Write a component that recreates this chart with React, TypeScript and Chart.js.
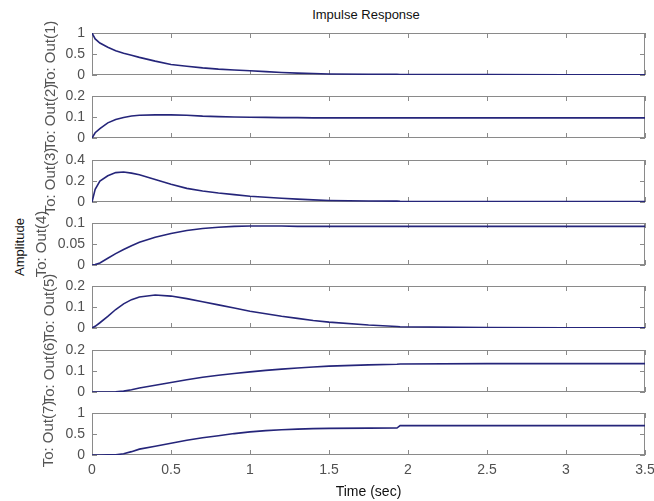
import React, { useEffect, useRef } from "react";
import { Chart, registerables } from "chart.js";

Chart.register(...registerables);

// ---- data ----
const times = [0, 0.02, 0.05, 0.1, 0.15, 0.2, 0.25, 0.3, 0.4, 0.5, 0.6, 0.7, 0.8, 0.9, 1.0, 1.1, 1.2, 1.3, 1.4, 1.5, 1.75, 1.93, 1.95, 2.5, 3.0, 3.5];

const out1 = [1.0, 0.86, 0.76, 0.66, 0.58, 0.52, 0.47, 0.42, 0.33, 0.25, 0.21, 0.17, 0.14, 0.12, 0.1, 0.08, 0.06, 0.045, 0.035, 0.025, 0.018, 0.014, 0.012, 0.008, 0.006, 0.005];
const out2 = [0, 0.025, 0.045, 0.072, 0.088, 0.098, 0.105, 0.108, 0.11, 0.11, 0.108, 0.104, 0.102, 0.1, 0.099, 0.098, 0.097, 0.097, 0.096, 0.096, 0.096, 0.096, 0.096, 0.096, 0.096, 0.096];
const out3 = [0, 0.12, 0.2, 0.25, 0.28, 0.285, 0.275, 0.26, 0.215, 0.17, 0.13, 0.105, 0.085, 0.07, 0.055, 0.045, 0.035, 0.027, 0.02, 0.015, 0.01, 0.008, 0.007, 0.005, 0.005, 0.005];
const out4 = [0, 0.001, 0.005, 0.016, 0.027, 0.037, 0.046, 0.054, 0.066, 0.075, 0.082, 0.087, 0.09, 0.092, 0.093, 0.093, 0.093, 0.092, 0.092, 0.092, 0.092, 0.092, 0.092, 0.092, 0.092, 0.092];
const out5 = [0, 0.008, 0.025, 0.055, 0.088, 0.115, 0.135, 0.148, 0.157, 0.152, 0.14, 0.125, 0.11, 0.095, 0.08, 0.068, 0.056, 0.046, 0.036, 0.028, 0.014, 0.007, 0.006, 0.002, 0.001, 0.001];
const out6 = [0, 0, 0, 0, 0.001, 0.004, 0.011, 0.019, 0.032, 0.045, 0.058, 0.07, 0.08, 0.088, 0.096, 0.103, 0.109, 0.114, 0.119, 0.123, 0.129, 0.132, 0.133, 0.135, 0.135, 0.135];
const out7 = [0, 0, 0, 0.002, 0.005, 0.03, 0.08, 0.14, 0.21, 0.28, 0.35, 0.41, 0.46, 0.51, 0.55, 0.58, 0.6, 0.615, 0.628, 0.635, 0.64, 0.642, 0.7, 0.7, 0.7, 0.7];

const seriesList = [out1, out2, out3, out4, out5, out6, out7];
const outputLabels = ["To: Out(1)", "To: Out(2)", "To: Out(3)", "To: Out(4)", "To: Out(5)", "To: Out(6)", "To: Out(7)"];
const yMaxes = [1, 0.2, 0.4, 0.1, 0.2, 0.2, 1];
const ySteps = [0.5, 0.1, 0.2, 0.05, 0.1, 0.1, 0.5];
const xMin = 0;
const xMax = 3.5;
const xStep = 0.5;

const titleText = "Impulse Response";
const xTitleText = "Time (sec)";
const yTitleText = "Amplitude";

// ---- layout / style ----
const W = 654;
const H = 501;
const PLOT_LEFT = 92;
const PLOT_RIGHT = 645;
const PLOT_TOPS = [33, 96, 160, 223, 286, 350, 413];
const PLOT_BOTTOMS = [75, 138, 202, 265, 328, 392, 455];
const LABEL_CX = [51, 51, 51, 42, 50, 50, 49];
const LABEL_SIZE = 15;
const FONT = "'Liberation Sans', Arial, Helvetica, sans-serif";
const LINE_COLOR = "#25257a";
const BOX_COLOR = "#8a8a8a";
const TICK_TEXT = "#505050";
const TICK_LEN = 5;

function tickValues(min: number, max: number, step: number): number[] {
  const out: number[] = [];
  const n = Math.round((max - min) / step);
  for (let i = 0; i <= n; i++) out.push(+(min + i * step).toFixed(6));
  return out;
}

const fmt = (v: any) => String(+Number(v).toFixed(4));

const matlabBox = {
  id: "matlabBox",
  beforeDatasetsDraw(chart: any) {
    const { ctx, chartArea: a, scales } = chart;
    const xs = scales.x;
    const ys = scales.y;
    const yMax = ys.options.max;
    const yStep = ys.options.ticks.stepSize;
    ctx.save();
    ctx.strokeStyle = BOX_COLOR;
    ctx.lineWidth = 1;
    ctx.strokeRect(a.left + 0.5, a.top + 0.5, a.right - a.left - 1, a.bottom - a.top - 1);
    ctx.beginPath();
    for (const v of tickValues(xMin, xMax, xStep)) {
      const p = Math.round(xs.getPixelForValue(v)) + 0.5;
      ctx.moveTo(p, a.top);
      ctx.lineTo(p, a.top + TICK_LEN);
      ctx.moveTo(p, a.bottom);
      ctx.lineTo(p, a.bottom - TICK_LEN);
    }
    for (const v of tickValues(0, yMax, yStep)) {
      const p = Math.round(ys.getPixelForValue(v)) + 0.5;
      ctx.moveTo(a.left, p);
      ctx.lineTo(a.left + TICK_LEN, p);
      ctx.moveTo(a.right, p);
      ctx.lineTo(a.right - TICK_LEN, p);
    }
    ctx.stroke();
    ctx.restore();
  },
};

function makeConfig(k: number): any {
  const isLast = k === seriesList.length - 1;
  const series = seriesList[k];
  return {
    type: "line",
    data: {
      datasets: [
        {
          data: times.map((t, i) => ({ x: t, y: series[i] })),
          borderColor: LINE_COLOR,
          borderWidth: 1.6,
          pointRadius: 0,
          tension: 0,
          fill: false,
        },
      ],
    },
    options: {
      animation: false,
      responsive: false,
      events: [],
      layout: {
        padding: {
          top: PLOT_TOPS[k],
          bottom: isLast ? 0 : H - PLOT_BOTTOMS[k],
          left: 0,
          right: W - PLOT_RIGHT,
        },
      },
      plugins: {
        legend: { display: false },
        tooltip: { enabled: false },
        title: { display: false },
      },
      scales: {
        x: {
          type: "linear",
          min: xMin,
          max: xMax,
          display: isLast,
          grid: { display: false, drawTicks: false },
          border: { display: false },
          ticks: {
            stepSize: xStep,
            padding: 7,
            color: TICK_TEXT,
            font: { family: FONT, size: 14 },
            maxRotation: 0,
            autoSkip: false,
            callback: fmt,
          },
          title: {
            display: isLast,
            text: xTitleText,
            color: "#111",
            font: { family: FONT, size: 14 },
            padding: { top: 0, bottom: 0 },
          },
          afterFit: (s: any) => {
            if (isLast) s.height = H - PLOT_BOTTOMS[seriesList.length - 1];
            s.paddingLeft = 0;
            s.paddingRight = 0;
          },
        },
        y: {
          type: "linear",
          min: 0,
          max: yMaxes[k],
          grid: { display: false, drawTicks: false },
          border: { display: false },
          ticks: {
            stepSize: ySteps[k],
            padding: 7,
            color: TICK_TEXT,
            font: { family: FONT, size: 14 },
            callback: fmt,
          },
          title: {
            display: true,
            text: outputLabels[k],
            color: "#555",
            font: { family: FONT, size: LABEL_SIZE },
            padding: { top: LABEL_CX[k] - LABEL_SIZE * 0.6, bottom: 0 },
          },
          afterFit: (s: any) => {
            s.width = PLOT_LEFT;
            s.paddingTop = 0;
            s.paddingBottom = 0;
          },
        },
      },
    },
    plugins: [matlabBox],
  };
}

export default function App() {
  const refs = useRef<(HTMLCanvasElement | null)[]>([]);

  useEffect(() => {
    const charts: Chart[] = [];
    seriesList.forEach((_, k) => {
      const c = refs.current[k];
      if (c) charts.push(new Chart(c, makeConfig(k)));
    });
    return () => charts.forEach((ch) => ch.destroy());
  }, []);

  return (
    <div
      style={{
        position: "absolute",
        left: 0,
        top: 0,
        width: W,
        height: H,
        background: "#fff",
        overflow: "hidden",
        fontFamily: FONT,
      }}
    >
      <div
        style={{
          position: "absolute",
          left: 266,
          top: 7,
          width: 200,
          textAlign: "center",
          fontSize: 13,
          lineHeight: "16px",
          color: "#111",
          whiteSpace: "nowrap",
        }}
      >
        {titleText}
      </div>
      <div
        style={{
          position: "absolute",
          left: 20 - 50,
          top: 247 - 8,
          width: 100,
          height: 16,
          textAlign: "center",
          fontSize: 13,
          lineHeight: "16px",
          color: "#111",
          transform: "rotate(-90deg)",
          whiteSpace: "nowrap",
        }}
      >
        {yTitleText}
      </div>
      {seriesList.map((_, k) => (
        <canvas
          key={k}
          ref={(el) => {
            refs.current[k] = el;
          }}
          width={W}
          height={H}
          style={{ position: "absolute", left: 0, top: 0, width: W, height: H }}
        />
      ))}
    </div>
  );
}
